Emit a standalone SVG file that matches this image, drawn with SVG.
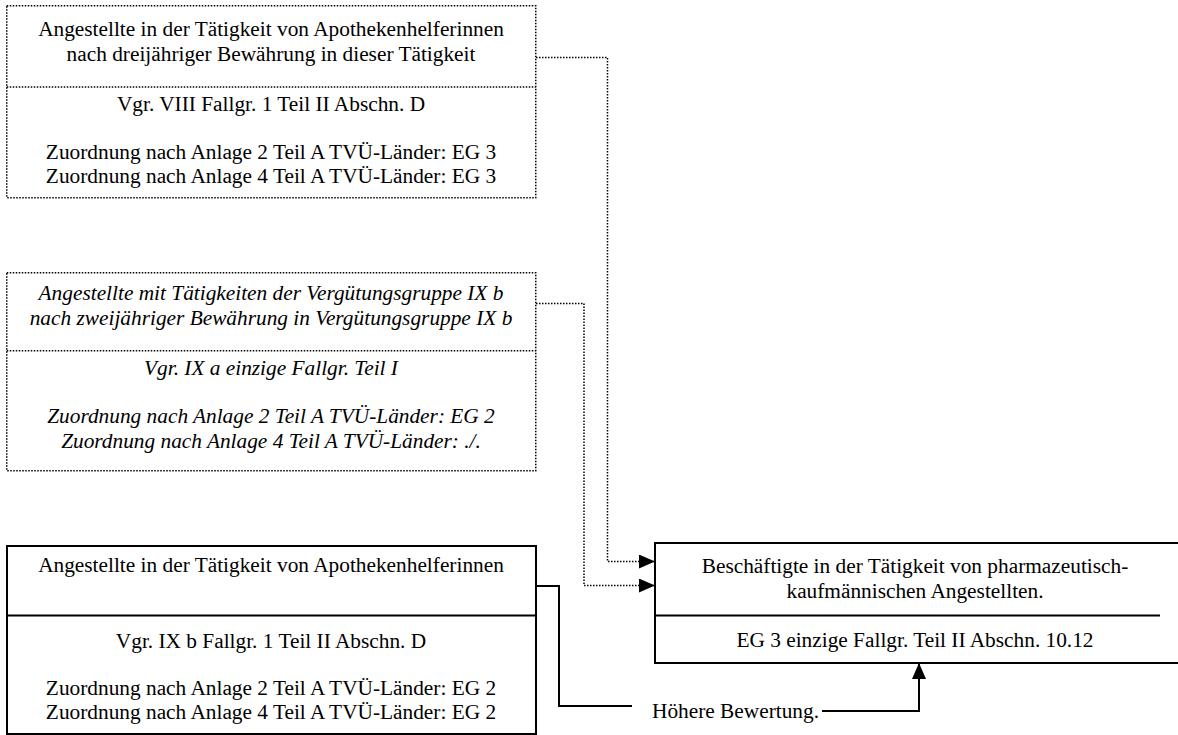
<svg xmlns="http://www.w3.org/2000/svg" width="1178" height="735" viewBox="0 0 1178 735">
<style>
text{font-family:"Liberation Serif","Times New Roman",serif;font-size:21.33px;fill:#000;text-anchor:middle}
.it{font-style:italic}
.dot{fill:none;stroke:#000;stroke-width:1.5;stroke-dasharray:1.5 1.5}
.sol{fill:none;stroke:#000;stroke-width:2}
.cd{fill:none;stroke:#000;stroke-width:1.5;stroke-dasharray:1.5 1.5}
.cs{fill:none;stroke:#000;stroke-width:2}
</style>
<defs>
<marker id="ah" markerWidth="16" markerHeight="14" refX="16" refY="7" orient="auto" markerUnits="userSpaceOnUse">
<path d="M0,0 L16,7 L0,14 Z" fill="#000"/>
</marker>
</defs>
<rect width="1178" height="735" fill="#fff"/>
<g id="node1">
<rect class="dot" x="6.75" y="5.75" width="529" height="192"/>
<line class="dot" x1="6.75" y1="87" x2="535.75" y2="87"/>
<text x="271" y="36">Angestellte in der Tätigkeit von Apothekenhelferinnen</text>
<text x="271" y="61">nach dreijähriger Bewährung in dieser Tätigkeit</text>
<text x="271" y="111">Vgr. VIII Fallgr. 1 Teil II Abschn. D</text>
<text x="271" y="159">Zuordnung nach Anlage 2 Teil A TVÜ-Länder: EG 3</text>
<text x="271" y="183">Zuordnung nach Anlage 4 Teil A TVÜ-Länder: EG 3</text>
</g>
<g id="node2">
<rect class="dot" x="6.75" y="272.75" width="529" height="198"/>
<line class="dot" x1="6.75" y1="350.75" x2="535.75" y2="350.75"/>
<text class="it" x="271" y="300">Angestellte mit Tätigkeiten der Vergütungsgruppe IX b</text>
<text class="it" x="271" y="325">nach zweijähriger Bewährung in Vergütungsgruppe IX b</text>
<text class="it" x="271" y="375">Vgr. IX a einzige Fallgr. Teil I</text>
<text class="it" x="271" y="423">Zuordnung nach Anlage 2 Teil A TVÜ-Länder: EG 2</text>
<text class="it" x="271" y="448">Zuordnung nach Anlage 4 Teil A TVÜ-Länder: ./.</text>
</g>
<g id="node3">
<rect class="sol" x="7" y="546" width="529" height="188"/>
<line class="sol" x1="7" y1="615.5" x2="536" y2="615.5"/>
<text x="271" y="572">Angestellte in der Tätigkeit von Apothekenhelferinnen</text>
<text x="271" y="648">Vgr. IX b Fallgr. 1 Teil II Abschn. D</text>
<text x="271" y="695">Zuordnung nach Anlage 2 Teil A TVÜ-Länder: EG 2</text>
<text x="271" y="719">Zuordnung nach Anlage 4 Teil A TVÜ-Länder: EG 2</text>
</g>
<g id="node4">
<rect class="sol" x="655" y="543" width="540" height="120"/>
<line class="sol" x1="655" y1="615.5" x2="1160" y2="615.5"/>
<text x="915" y="573">Beschäftigte in der Tätigkeit von pharmazeutisch-</text>
<text x="915" y="598">kaufmännischen Angestellten.</text>
<text x="915" y="647">EG 3 einzige Fallgr. Teil II Abschn. 10.12</text>
</g>
<g id="connectors">
<polyline class="cd" points="536,57.5 607.5,57.5 607.5,561.5 655,561.5" marker-end="url(#ah)"/>
<polyline class="cd" points="536,303.5 584,303.5 584,585.5 655,585.5" marker-end="url(#ah)"/>
<polyline class="cs" points="536,586 559,586 559,706 632,706"/>
<polyline class="cs" points="822,711 919,711 919,663" marker-end="url(#ah)"/>
<text id="edge-label" x="652" y="718" style="text-anchor:start">Höhere Bewertung.</text>
</g>
</svg>
